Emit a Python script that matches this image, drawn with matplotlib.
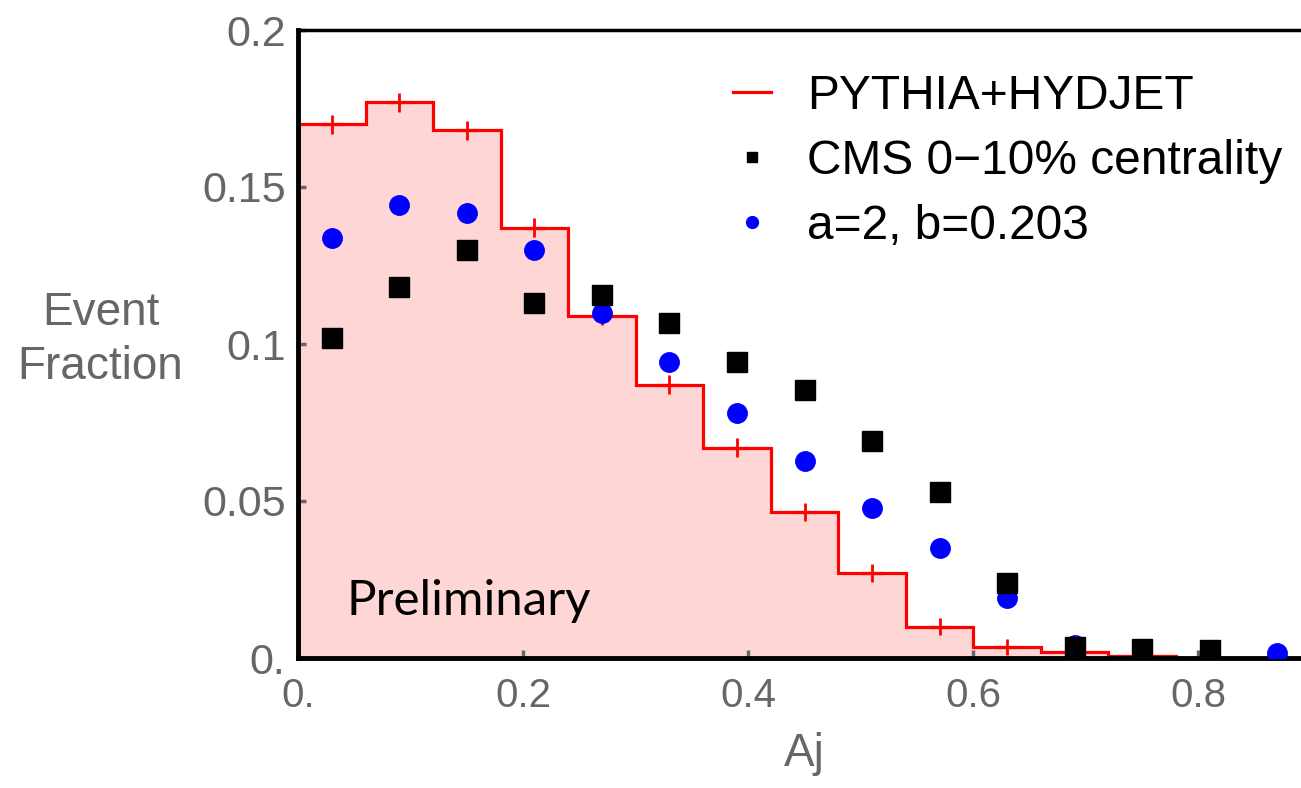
import matplotlib
matplotlib.use("Agg")
import matplotlib.pyplot as plt
from matplotlib.lines import Line2D
import numpy as np

# PYTHIA+HYDJET histogram (bin edges and contents)
bin_edges = [0.0, 0.06, 0.12, 0.18, 0.24, 0.30, 0.36, 0.42, 0.48, 0.54, 0.60, 0.66, 0.72, 0.78]
pythia = [0.170, 0.177, 0.168, 0.137, 0.109, 0.087, 0.067, 0.0465, 0.027, 0.0099, 0.0035, 0.0019, 0.0005]
pythia_err = [0.003, 0.003, 0.003, 0.003, 0.003, 0.003, 0.003, 0.003, 0.0028, 0.0027, 0.0025, 0.0, 0.0]

# CMS 0-10% and model points at the bin centres
aj = [0.03, 0.09, 0.15, 0.21, 0.27, 0.33, 0.39, 0.45, 0.51, 0.57, 0.63, 0.69, 0.75, 0.81, 0.87]
cms = [0.102, 0.118, 0.130, 0.113, 0.1157, 0.1067, 0.0943, 0.0853, 0.0690, 0.0530, 0.0240, 0.0035, 0.0030, 0.0025, np.nan]
model = [0.1337, 0.1443, 0.1417, 0.1300, 0.1100, 0.0943, 0.0780, 0.0627, 0.0478, 0.0350, 0.0190, 0.0040, 0.0025, 0.0020, 0.0015]

x_ticks = [0.0, 0.2, 0.4, 0.6, 0.8]
x_ticklabels = ["0.", "0.2", "0.4", "0.6", "0.8"]
y_ticks = [0.0, 0.05, 0.1, 0.15, 0.2]
y_ticklabels = ["0.", "0.05", "0.1", "0.15", "0.2"]

gray = "#666666"
W, H = 1301, 788

fig = plt.figure(figsize=(W / 100, H / 100), dpi=100)
ax = fig.add_axes([298 / W, 130 / H, 1013 / W, 628 / H])

centers = 0.5 * (np.array(bin_edges[:-1]) + np.array(bin_edges[1:]))

# histogram: filled area + red outline with error crosses
ax.stairs(pythia, bin_edges, fill=True, color="#ffd6d6", zorder=1)
ax.stairs(pythia, bin_edges, color="red", lw=2.3, zorder=2)
n_err = 11
ax.errorbar(centers[:n_err], pythia[:n_err], yerr=pythia_err[:n_err], fmt="none",
            ecolor="red", elinewidth=2.0, capsize=0, zorder=3)
ax.plot(centers[:n_err], pythia[:n_err], ls="none", marker="_", ms=16, mew=2.3,
        color="red", zorder=3)

ax.plot(aj, model, ls="none", marker="o", ms=14, color="blue", mec="blue", zorder=4)
ax.plot(aj, cms, ls="none", marker="s", ms=14, color="black", zorder=5)

ax.text(0.0435, 0.0137, "Preliminary", fontsize=35.5, family="Lato", color="black", zorder=6)

ax.set_xlim(0, 0.9)
ax.set_ylim(0, 0.2)
ax.set_xticks(x_ticks)
ax.set_xticklabels(x_ticklabels)
ax.set_yticks(y_ticks)
ax.set_yticklabels(y_ticklabels)

for lab in ax.get_xticklabels() + ax.get_yticklabels():
    lab.set_family("Liberation Sans")
ax.tick_params(axis="both", direction="in", length=6, width=2.5, color=gray,
               labelcolor=gray)
ax.tick_params(axis="x", labelsize=29, pad=14)
ax.tick_params(axis="y", labelsize=31, pad=9)

ax.spines["right"].set_visible(False)
ax.spines["left"].set_linewidth(3.5)
ax.spines["bottom"].set_linewidth(3.5)
ax.spines["top"].set_linewidth(2.5)

ax.set_xlabel("Aj", fontsize=33, family="Liberation Sans", color=gray, labelpad=12)
ax.set_ylabel("Event\nFraction", fontsize=33, family="Liberation Sans", color=gray,
              rotation=0, ha="center", va="center", multialignment="center",
              linespacing=1.3)
ax.yaxis.set_label_coords(-0.195, 0.506)

handles = [
    Line2D([], [], color="red", lw=2.3),
    Line2D([], [], ls="none", marker="s", ms=7, color="black"),
    Line2D([], [], ls="none", marker="o", ms=8.5, color="blue"),
]
labels = ["PYTHIA+HYDJET", "CMS 0\u221210% centrality", "a=2, b=0.203"]
ax.legend(handles, labels, loc="upper left", bbox_to_anchor=(733 / W, 1 - 74 / H),
          bbox_transform=fig.transFigure, frameon=False, borderpad=0, borderaxespad=0,
          handlelength=0.8, handletextpad=0.75, labelspacing=0.42,
          prop={"family": "Liberation Sans", "size": 34.5})

fig.savefig("out.png", dpi=100)
